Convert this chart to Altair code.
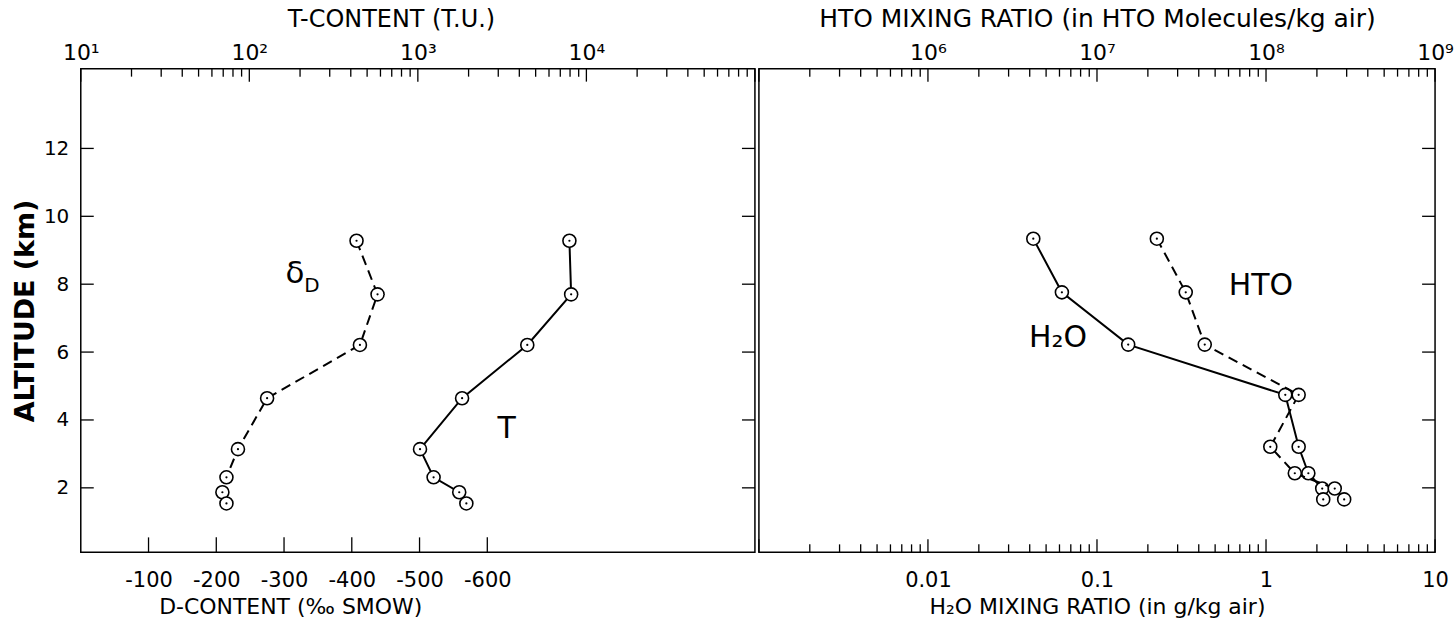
import altair as alt
import pandas as pd

# ---------------- data ----------------
# left panel: deuterium (delta D, per mil SMOW) and tritium (T.U.) vs altitude (km)
alt_left = [9.28, 7.70, 6.21, 4.64, 3.14, 2.31, 1.87, 1.54]
delta_d = [-407, -438, -412, -275, -232, -215, -209, -215]
t_content = [7930, 8120, 4460, 1830, 1030, 1240, 1760, 1940]

# right panel: H2O (g/kg air) and HTO (molecules/kg air) mixing ratio vs altitude (km)
alt_right = [9.34, 7.76, 6.22, 4.74, 3.21, 2.43, 1.98, 1.66]
h2o = [0.042, 0.062, 0.153, 1.30, 1.56, 1.78, 2.15, 2.18]
hto = [2.26e7, 3.35e7, 4.34e7, 1.56e8, 1.06e8, 1.48e8, 2.55e8, 2.90e8]

# tick values
alt_ticks = [2, 4, 6, 8, 10, 12]
d_ticks = [-100, -200, -300, -400, -500, -600]
t_decades = [10, 100, 1000, 10000, 100000]
hto_decades = [1e5, 1e6, 1e7, 1e8, 1e9]
h2o_decades = [0.001, 0.01, 0.1, 1, 10]
minor_mult = [2, 3, 4, 5, 6, 7, 8, 9]

FONT = "DejaVu Sans"
WL, WR, H = 676, 678, 485
MAJ, MIN, DT, YT = 13, 8, 15, 13

def minors(decades):
    return [d * m for d in decades[:-1] for m in minor_mult]

# ---------------- scales / axes ----------------
yscale = alt.Scale(domain=[0.1, 14.35], nice=False, zero=False)
yaxis_left = alt.Axis(title="ALTITUDE (km)", values=alt_ticks, ticks=False, domain=False,
                      grid=False, labelPadding=12, labelFontSize=20, titleFontSize=27,
                      titleFontWeight="bold", titlePadding=4)
Y_L = alt.Y("alt:Q", scale=yscale, axis=yaxis_left)
Y_R = alt.Y("alt:Q", scale=yscale, axis=None)

d_scale = alt.Scale(domain=[0, -995], nice=False, zero=False)
d_axis = alt.Axis(orient="bottom", values=d_ticks, ticks=False, domain=False, grid=False,
                  labelExpr="'-' + abs(datum.value)", labelPadding=17, labelFontSize=21,
                  labelFlush=False, labelOverlap=False,
                  title="D-CONTENT (‰ SMOW)", titleX=210, titleFontSize=22,
                  titleFontWeight="normal", titlePadding=6)

t_scale = alt.Scale(type="log", domain=[10, 1e5], nice=False)
t_axis = alt.Axis(orient="top", values=t_decades[:-1], ticks=False, domain=False, grid=False,
                  labelExpr="datum.value == 10 ? '10¹' : datum.value == 100 ? '10²' : datum.value == 1000 ? '10³' : '10⁴'",
                  labelPadding=4, labelFontSize=22, labelFlush=False, labelOverlap=False,
                  title="T-CONTENT (T.U.)", titleX=311, titleFontSize=24, titleFontWeight="normal",
                  titlePadding=10)

h2o_scale = alt.Scale(type="log", domain=[0.001, 10], nice=False)
h2o_axis = alt.Axis(orient="bottom", values=h2o_decades[1:], ticks=False, domain=False, grid=False,
                    format="~g", labelPadding=17, labelFontSize=21, labelFlush=False,
                    labelOverlap=False, title="H₂O MIXING RATIO (in g/kg air)",
                    titleFontSize=22, titleFontWeight="normal", titlePadding=6)

hto_scale = alt.Scale(type="log", domain=[1e5, 1e9], nice=False)
hto_axis = alt.Axis(orient="top", values=hto_decades[1:], ticks=False, domain=False, grid=False,
                    labelExpr="datum.value == 1e6 ? '10⁶' : datum.value == 1e7 ? '10⁷' : datum.value == 1e8 ? '10⁸' : '10⁹'",
                    labelPadding=4, labelFontSize=22, labelFlush=False, labelOverlap=False,
                    title="HTO MIXING RATIO (in HTO Molecules/kg air)", titleFontSize=25,
                    titleFontWeight="normal", titlePadding=10)


def series(df, xscale, xaxis, Y, dashed):
    X = alt.X("x:Q", scale=xscale, axis=xaxis)
    line_kw = dict(color="black", strokeWidth=2)
    if dashed:
        line_kw["strokeDash"] = [10, 6]
    line = alt.Chart(df).mark_line(**line_kw).encode(x=X, y=Y, order="i:O")
    pts = alt.Chart(df).mark_point(shape="circle", filled=True, fill="white", stroke="black",
                                   strokeWidth=1.6, size=170, opacity=1).encode(x=X, y=Y)
    dot = alt.Chart(df).mark_circle(color="black", size=5, opacity=1).encode(x=X, y=Y)
    return [line, pts, dot]


def xticks(vals, xscale, xaxis, top, length):
    X = alt.X("x:Q", scale=xscale, axis=xaxis)
    df = pd.DataFrame({"x": vals})
    if top:
        return alt.Chart(df).mark_rule(color="black", strokeWidth=1.3).encode(
            x=X, y=alt.value(0), y2=alt.value(length))
    return alt.Chart(df).mark_rule(color="black", strokeWidth=1.3).encode(
        x=X, y=alt.value(H), y2=alt.value(H - length))


def yticks(Y, x0, x1):
    df = pd.DataFrame({"alt": alt_ticks})
    return alt.Chart(df).mark_rule(color="black", strokeWidth=1.3).encode(
        y=Y, x=alt.value(x0), x2=alt.value(x1))


def label(text, xv, yv, size, xscale, xaxis, Y):
    X = alt.X("x:Q", scale=xscale, axis=xaxis)
    df = pd.DataFrame({"x": [xv], "alt": [yv], "t": [text]})
    return alt.Chart(df).mark_text(font=FONT, fontSize=size, color="black", align="center",
                                   baseline="middle").encode(x=X, y=Y, text="t:N")


# ---------------- left panel ----------------
d_df = pd.DataFrame({"x": delta_d, "alt": alt_left, "i": list(range(len(alt_left)))})
t_df = pd.DataFrame({"x": t_content, "alt": alt_left, "i": list(range(len(alt_left)))})

d_sub = alt.layer(
    xticks(d_ticks, d_scale, d_axis, False, DT),
    yticks(Y_L, 0, YT),
    yticks(Y_L, WL - YT, WL),
    *series(d_df, d_scale, d_axis, Y_L, True),
    label("δ", -316, 8.3, 31, d_scale, d_axis, Y_L),
    label("D", -341, 7.95, 20, d_scale, d_axis, Y_L),
)
t_sub = alt.layer(
    xticks(t_decades, t_scale, t_axis, True, MAJ),
    xticks(minors(t_decades), t_scale, t_axis, True, MIN),
    *series(t_df, t_scale, t_axis, Y_L, False),
    label("T", 3365, 3.74, 30, t_scale, t_axis, Y_L),
)
left = alt.layer(d_sub, t_sub).resolve_scale(x="independent").properties(width=WL, height=H)

# ---------------- right panel ----------------
h_df = pd.DataFrame({"x": h2o, "alt": alt_right, "i": list(range(len(alt_right)))})
o_df = pd.DataFrame({"x": hto, "alt": alt_right, "i": list(range(len(alt_right)))})

h_sub = alt.layer(
    xticks(h2o_decades, h2o_scale, h2o_axis, False, MAJ),
    xticks(minors(h2o_decades), h2o_scale, h2o_axis, False, MIN),
    yticks(Y_R, WR - YT, WR),
    *series(h_df, h2o_scale, h2o_axis, Y_R, False),
    label("H₂O", 0.0588, 6.41, 30, h2o_scale, h2o_axis, Y_R),
)
o_sub = alt.layer(
    xticks(hto_decades, hto_scale, hto_axis, True, MAJ),
    xticks(minors(hto_decades), hto_scale, hto_axis, True, MIN),
    *series(o_df, hto_scale, hto_axis, Y_R, True),
    label("HTO", 9.34e7, 7.94, 30, hto_scale, hto_axis, Y_R),
)
right = alt.layer(h_sub, o_sub).resolve_scale(x="independent").properties(width=WR, height=H)

chart = alt.hconcat(left, right, spacing=0).properties(
    padding={"left": 10, "top": 5, "right": 0, "bottom": 0},
    background="white",
).configure_view(stroke="black", strokeWidth=1.5).configure_axis(
    labelFont=FONT, titleFont=FONT, labelColor="black", titleColor="black"
).configure_concat(spacing=0)

chart.save("out.html", embed_options={"renderer": "svg", "actions": False})
